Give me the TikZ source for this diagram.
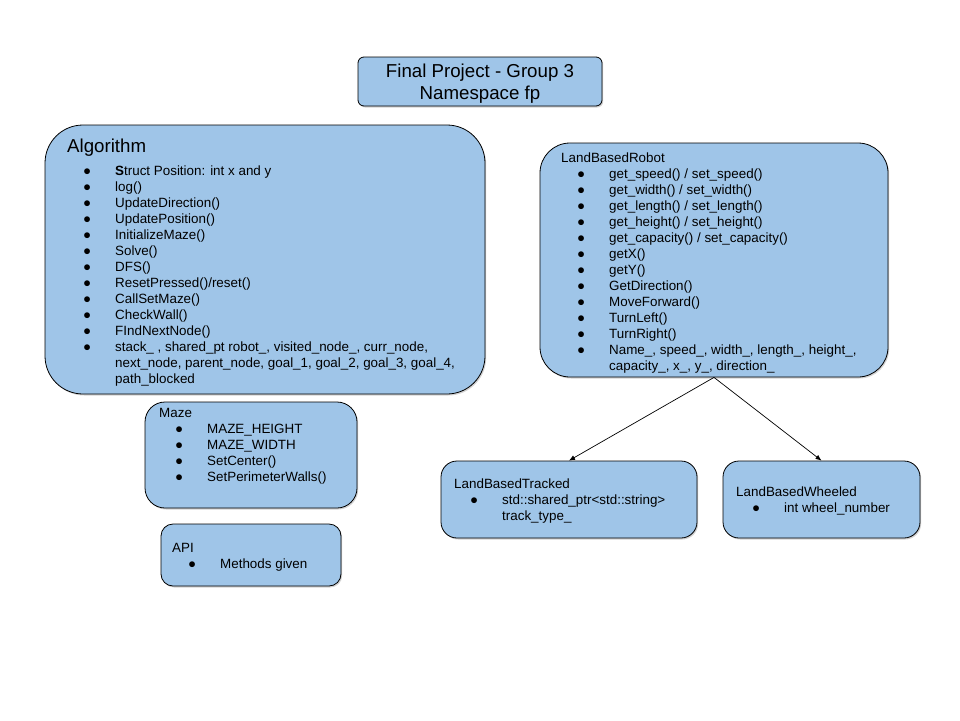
\documentclass[tikz,border=0pt]{standalone}
\usepackage{fontspec}
\setmainfont{Liberation Sans}
\usetikzlibrary{shadows,arrows.meta}
\definecolor{boxblue}{HTML}{9FC5E8}
% bullet entry and its continuation line
\newcommand{\bul}[1]{\hspace*{16pt}\makebox[32pt][l]{●}#1}
\newcommand{\cont}[1]{\hspace*{48pt}#1}

\begin{document}
\begin{tikzpicture}[x=1pt, y=-1pt,
  classbox/.style={draw=black, line width=0.8pt, fill=boxblue,
    drop shadow={shadow xshift=1.2pt, shadow yshift=-1.5pt, opacity=0.35}},
  members/.style={inner sep=0pt, anchor=base west,
    font=\fontsize{13.4}{16}\selectfont},
  heading/.style={inner sep=0pt, font=\fontsize{18.7}{22}\selectfont}]
  \path[use as bounding box, fill=white] (0,0) rectangle (960,720);

  % boxes
  \node[classbox, rounded corners=6pt, minimum width=244pt, minimum height=49pt]
        (title) at (480,81.5) {};
  \node[classbox, rounded corners=38pt, minimum width=440pt, minimum height=269pt]
        (algorithm) at (265,259.5) {};
  \node[classbox, rounded corners=30pt, minimum width=348pt, minimum height=234pt]
        (robot) at (714,260) {};
  \node[classbox, rounded corners=20pt, minimum width=212pt, minimum height=106pt]
        (maze) at (251,455) {};
  \node[classbox, rounded corners=12pt, minimum width=180pt, minimum height=62pt]
        (api) at (251,555) {};
  \node[classbox, rounded corners=16pt, minimum width=256pt, minimum height=77pt]
        (tracked) at (569,499.5) {};
  \node[classbox, rounded corners=16pt, minimum width=197pt, minimum height=77pt]
        (wheeled) at (821.5,499.5) {};

  % members
  \node[heading, align=center] (titletext) at (480,84)
        {Final Project - Group 3\\Namespace fp};
  \node[heading, anchor=base west] (algotitle) at (67,152) {Algorithm};
  \node[members] (algotext) at (67,175) {
    \begin{tabular}[t]{@{}l@{}}
      \bul{\textbf{S}truct Position: int x and y}\\
      \bul{log()}\\
      \bul{UpdateDirection()}\\
      \bul{UpdatePosition()}\\
      \bul{InitializeMaze()}\\
      \bul{Solve()}\\
      \bul{DFS()}\\
      \bul{ResetPressed()/reset()}\\
      \bul{CallSetMaze()}\\
      \bul{CheckWall()}\\
      \bul{FIndNextNode()}\\
      \bul{stack\_ , shared\_pt robot\_, visited\_node\_, curr\_node,}\\
      \cont{next\_node, parent\_node, goal\_1, goal\_2, goal\_3, goal\_4,}\\
      \cont{path\_blocked}
    \end{tabular}
  };

  \node[members] (robottext) at (561,162) {
    \begin{tabular}[t]{@{}l@{}}
      LandBasedRobot\\
      \bul{get\_speed() / set\_speed()}\\
      \bul{get\_width() / set\_width()}\\
      \bul{get\_length() / set\_length()}\\
      \bul{get\_height() / set\_height()}\\
      \bul{get\_capacity() / set\_capacity()}\\
      \bul{getX()}\\
      \bul{getY()}\\
      \bul{GetDirection()}\\
      \bul{MoveForward()}\\
      \bul{TurnLeft()}\\
      \bul{TurnRight()}\\
      \bul{Name\_, speed\_, width\_, length\_, height\_,}\\
      \cont{capacity\_, x\_, y\_, direction\_}
    \end{tabular}
  };

  \node[members] (mazetext) at (159,417) {
    \begin{tabular}[t]{@{}l@{}}
      Maze\\
      \bul{MAZE\_HEIGHT}\\
      \bul{MAZE\_WIDTH}\\
      \bul{SetCenter()}\\
      \bul{SetPerimeterWalls()}
    \end{tabular}
  };

  \node[members] (apitext) at (172,552) {
    \begin{tabular}[t]{@{}l@{}}
      API\\
      \bul{Methods given}
    \end{tabular}
  };

  \node[members] (trackedtext) at (454,488) {
    \begin{tabular}[t]{@{}l@{}}
      LandBasedTracked\\
      \bul{std::shared\_ptr<std::string>}\\
      \cont{track\_type\_}
    \end{tabular}
  };

  \node[members] (wheeledtext) at (736,496) {
    \begin{tabular}[t]{@{}l@{}}
      LandBasedWheeled\\
      \bul{int wheel\_number}
    \end{tabular}
  };

  \path[-{Latex[length=6pt,width=5pt]}, line width=0.7pt]
    (robot.south) edge (tracked.north)
    (robot.south) edge (wheeled.north);
\end{tikzpicture}
\end{document}
